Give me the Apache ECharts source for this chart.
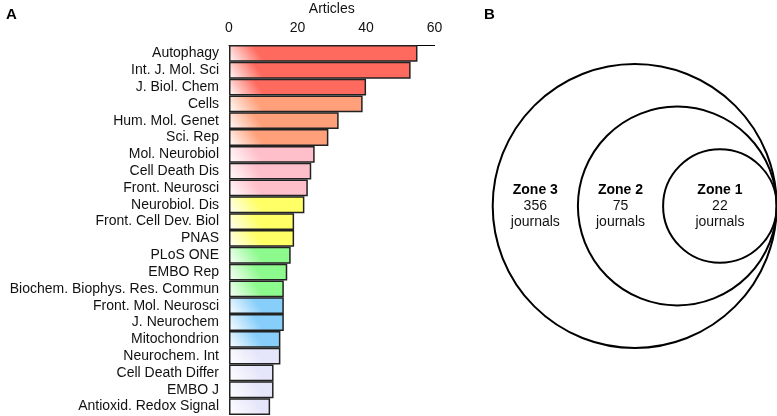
<!DOCTYPE html>
<html>
<head>
<meta charset="utf-8">
<style>
  html, body { margin: 0; padding: 0; background: #fff; }
  #chart { width: 777px; height: 416px; }
</style>
<script src="https://cdn.jsdelivr.net/npm/echarts@6/dist/echarts.min.js"></script>
</head>
<body>
<div id="chart"></div>
<script>
// panel A data
var journals = ['Autophagy', 'Int. J. Mol. Sci', 'J. Biol. Chem', 'Cells', 'Hum. Mol. Genet',
  'Sci. Rep', 'Mol. Neurobiol', 'Cell Death Dis', 'Front. Neurosci', 'Neurobiol. Dis',
  'Front. Cell Dev. Biol', 'PNAS', 'PLoS ONE', 'EMBO Rep', 'Biochem. Biophys. Res. Commun',
  'Front. Mol. Neurosci', 'J. Neurochem', 'Mitochondrion', 'Neurochem. Int', 'Cell Death Differ',
  'EMBO J', 'Antioxid. Redox Signal'];
var articles = [55, 53, 40, 39, 32, 29, 25, 24, 23, 22, 19, 19, 18, 17, 16, 16, 16, 15, 15, 13, 13, 12];
var groups = [0, 0, 0, 1, 1, 1, 2, 2, 2, 3, 3, 3, 4, 4, 4, 5, 5, 5, 6, 6, 6, 6];
var articleTicks = [0, 20, 40, 60];

// panel B data (Bradford zones)
var zoneNames = ['Zone 3', 'Zone 2', 'Zone 1'];
var zoneJournals = [356, 75, 22];
var zoneRadii = [50, 35, 20];

var palette = ['#ff6a5e', '#ffa07a', '#ffbfca', '#ffff66', '#8dfa8d', '#87cefa', '#e6e6fa'];
var font = 'Arial, "Liberation Sans", sans-serif';
var plotW = 205.6;

// white glow in the lower-left corner of each bar
function barFill(c, v) {
  var w = v / 60 * plotW;
  return new echarts.graphic.LinearGradient(0, 1, Math.min(1, 24 / w), 0, [
    { offset: 0, color: '#ffffff' },
    { offset: 1, color: c }
  ]);
}

var barData = articles.map(function (v, i) {
  return { value: v, itemStyle: { color: barFill(palette[groups[i]], v) } };
});

var chart = echarts.init(document.getElementById('chart'));
chart.setOption({
  animation: false,
  textStyle: { fontFamily: font },
  graphic: [
    { type: 'text', left: 6, top: 7, style: { text: 'A', font: 'bold 15px ' + font, fill: '#000' } },
    { type: 'text', left: 484, top: 7, style: { text: 'B', font: 'bold 15px ' + font, fill: '#000' } }
  ],
  grid: [
    { left: 229, top: 45, width: plotW, height: 370, outerBoundsMode: 'none', containLabel: false },
    { left: 492.7, top: 64, width: 284, height: 284, outerBoundsMode: 'none', containLabel: false }
  ],
  xAxis: [{
    gridIndex: 0, type: 'value', position: 'top', min: 0, max: 60, interval: 20,
    name: 'Articles', nameLocation: 'middle', nameGap: 24,
    nameTextStyle: { fontSize: 14, color: '#111' },
    axisLine: { show: true, lineStyle: { color: '#000', width: 1 } },
    axisTick: { show: false },
    splitLine: { show: false },
    axisLabel: { fontSize: 14, color: '#111', margin: 10,
      formatter: function (v) { return articleTicks.indexOf(v) >= 0 ? String(v) : ''; } }
  }, {
    gridIndex: 1, type: 'value', min: 0, max: 100, show: false
  }],
  yAxis: [{
    gridIndex: 0, type: 'category', data: journals, inverse: true,
    axisLine: { show: false }, axisTick: { show: false },
    axisLabel: { fontSize: 14, color: '#111', margin: 10, interval: 0 }
  }, {
    gridIndex: 1, type: 'value', min: 0, max: 100, show: false
  }],
  series: [{
    type: 'bar', xAxisIndex: 0, yAxisIndex: 0,
    data: barData, barCategoryGap: 0,
    itemStyle: { borderColor: '#222', borderWidth: 1.5 }
  }, {
    type: 'custom', xAxisIndex: 1, yAxisIndex: 1,
    data: zoneRadii.map(function (r, i) { return [r, zoneJournals[i], i]; }),
    renderItem: function (params, api) {
      var i = api.value(2);
      var r = api.value(0);
      var c = api.coord([100 - r, 50]);
      var rpx = api.size([r, 0])[0];
      // label sits in the middle of the ring (or centre for the innermost)
      var inner = i + 1 < zoneRadii.length ? zoneRadii[i + 1] : null;
      var lx = inner === null ? 100 - r : ((100 - 2 * r) + (100 - 2 * inner)) / 2;
      var lp = api.coord([lx, 50]);
      return {
        type: 'group',
        children: [{
          type: 'circle',
          shape: { cx: c[0], cy: c[1], r: rpx },
          style: { fill: 'none', stroke: '#000', lineWidth: 2 }
        }, {
          type: 'text',
          x: lp[0], y: lp[1],
          style: {
            text: '{b|' + zoneNames[i] + '}\n' + zoneJournals[i] + '\njournals',
            align: 'center', verticalAlign: 'middle',
            font: '14px ' + font, fill: '#111', lineHeight: 16,
            rich: { b: { fontWeight: 'bold', fontSize: 14, lineHeight: 16, fill: '#000' } }
          }
        }]
      };
    }
  }]
});
</script>
</body>
</html>
